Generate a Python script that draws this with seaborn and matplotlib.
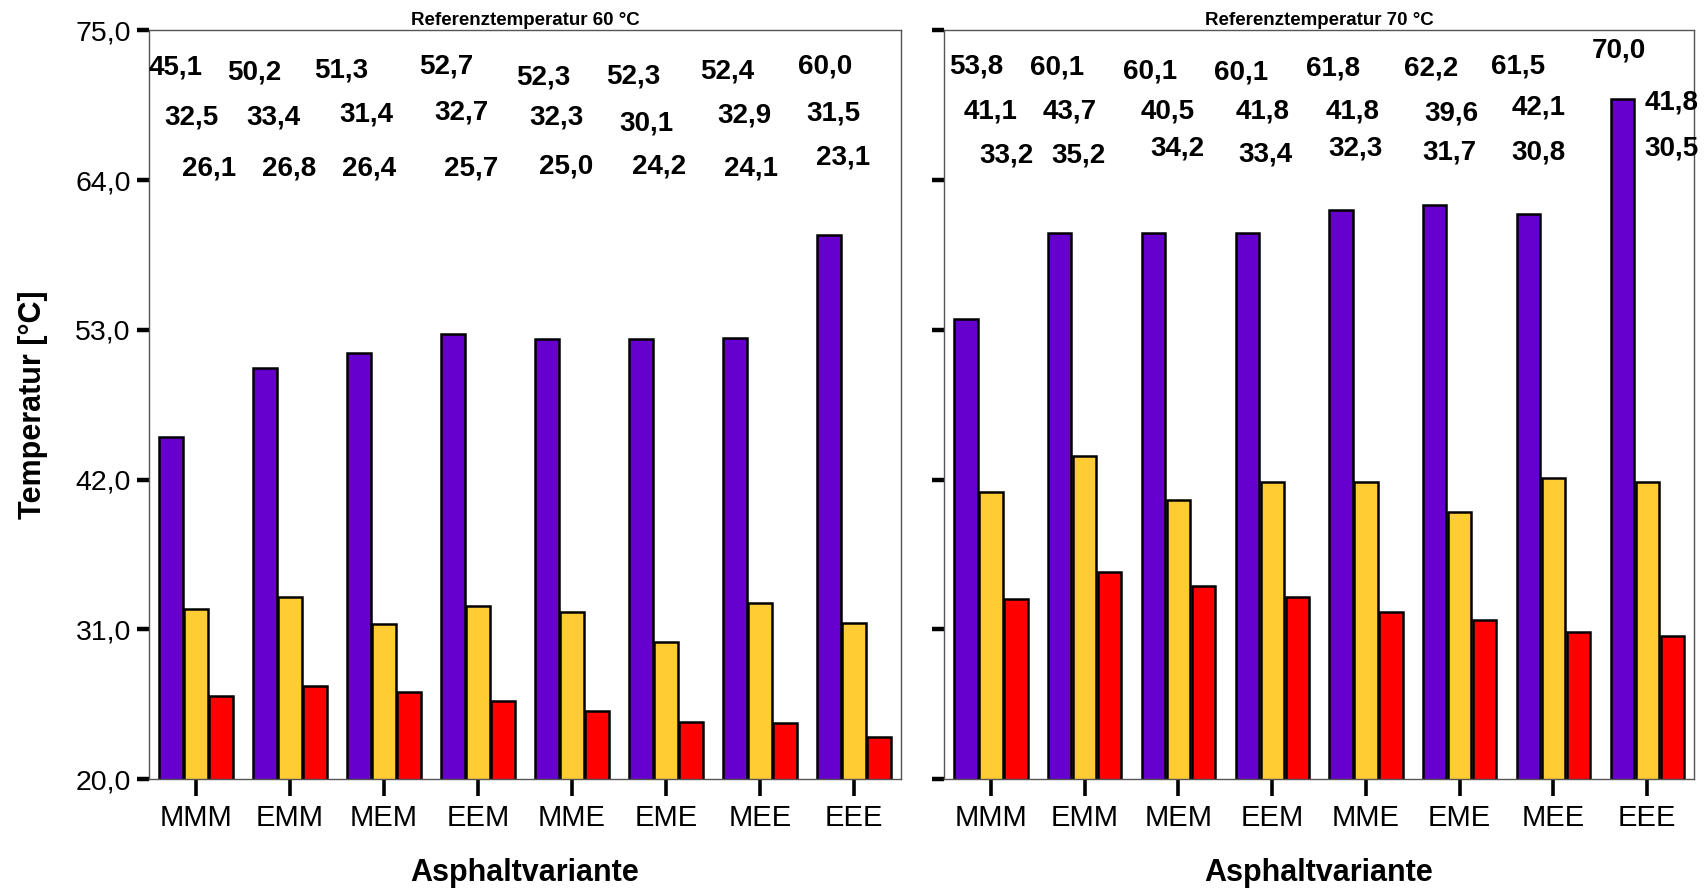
import numpy as np
import pandas as pd
import matplotlib
matplotlib.use("Agg")
import matplotlib.pyplot as plt
import seaborn as sns

# Asphalt variants on the x axis
varianten = ["MMM", "EMM", "MEM", "EEM", "MME", "EME", "MEE", "EEE"]
schichten = ["oben", "mitte", "unten"]

# Reference temperature 60 °C
ref60_oben = [45.1, 50.2, 51.3, 52.7, 52.3, 52.3, 52.4, 60.0]
ref60_mitte = [32.5, 33.4, 31.4, 32.7, 32.3, 30.1, 32.9, 31.5]
ref60_unten = [26.1, 26.8, 26.4, 25.7, 25.0, 24.2, 24.1, 23.1]

# Reference temperature 70 °C
ref70_oben = [53.8, 60.1, 60.1, 60.1, 61.8, 62.2, 61.5, 70.0]
ref70_mitte = [41.1, 43.7, 40.5, 41.8, 41.8, 39.6, 42.1, 41.8]
ref70_unten = [33.2, 35.2, 34.2, 33.4, 32.3, 31.7, 30.8, 30.5]

y_ticks = [20.0, 31.0, 42.0, 53.0, 64.0, 75.0]
titel = ["Referenztemperatur 60 °C", "Referenztemperatur 70 °C"]

farben = ["#6600CC", "#FFCC33", "#FF0000"]

# Placement of the value labels in the upper area (x offset from group centre, y in data units)
label_dx = [
    [[-0.22, -0.38, -0.45, -0.34, -0.30, -0.35, -0.35, -0.31],
     [-0.05, -0.18, -0.19, -0.17, -0.16, -0.21, -0.17, -0.22],
     [0.14, -0.01, -0.16, -0.07, -0.06, -0.07, -0.09, -0.12]],
    [[-0.16, -0.29, -0.30, -0.33, -0.35, -0.30, -0.38, -0.30],
     [0.00, -0.16, -0.11, -0.10, -0.14, -0.09, -0.16, 0.26],
     [0.17, -0.07, -0.01, -0.07, -0.11, -0.11, -0.16, 0.26]],
]
label_y = [
    [[72.28, 71.88, 72.04, 72.36, 71.56, 71.64, 71.96, 72.36],
     [68.60, 68.60, 68.85, 69.00, 68.60, 68.20, 68.76, 68.92],
     [64.85, 64.85, 64.85, 64.85, 65.00, 65.00, 64.85, 65.65]],
    [[72.36, 72.28, 71.96, 71.88, 72.20, 72.20, 72.36, 73.56],
     [69.08, 69.08, 69.08, 69.08, 69.08, 68.92, 69.32, 69.72],
     [65.80, 65.80, 66.30, 65.90, 66.30, 66.00, 66.00, 66.30]],
]


def long_table(oben, mitte, unten):
    rows = []
    for serie, werte in zip(schichten, [oben, mitte, unten]):
        for v, w in zip(varianten, werte):
            rows.append({"Asphaltvariante": v, "Schicht": serie, "Temperatur": w})
    return pd.DataFrame(rows)


tabellen = [
    long_table(ref60_oben, ref60_mitte, ref60_unten),
    long_table(ref70_oben, ref70_mitte, ref70_unten),
]
werte = [
    [ref60_oben, ref60_mitte, ref60_unten],
    [ref70_oben, ref70_mitte, ref70_unten],
]

sns.set_style("white")
plt.rcParams["font.family"] = ["Liberation Sans", "DejaVu Sans"]
plt.rcParams["text.color"] = "black"
plt.rcParams["axes.labelcolor"] = "black"
plt.rcParams["xtick.color"] = "black"
plt.rcParams["ytick.color"] = "black"

fig = plt.figure(figsize=(17.06, 8.89), dpi=100)
ax1 = fig.add_axes([0.0873, 0.1237, 0.4408, 0.842])
ax2 = fig.add_axes([0.5534, 0.1237, 0.4396, 0.842])

for k, ax in enumerate([ax1, ax2]):
    sns.barplot(
        data=tabellen[k], x="Asphaltvariante", y="Temperatur", hue="Schicht",
        order=varianten, hue_order=schichten, palette=farben, saturation=1,
        errorbar=None, width=0.8, gap=0.07, edgecolor="black", linewidth=1.8,
        legend=False, ax=ax,
    )
    ax.set_ylim(20, 75)
    ax.set_xlim(-0.5, 7.5)
    ax.set_yticks(y_ticks)
    ax.set_yticklabels([f"{t:.1f}".replace(".", ",") for t in y_ticks])
    ax.tick_params(axis="y", left=True, direction="out", length=9, width=3.2,
                   color="black", labelcolor="black", labelsize=20.5, pad=4)
    ax.tick_params(axis="x", bottom=True, direction="out", length=12, width=2.6,
                   color="black", labelcolor="black", labelsize=21, pad=6)
    for sp in ax.spines.values():
        sp.set_color("#555555")
        sp.set_linewidth(1.0)
    ax.set_title(titel[k], fontsize=13.5, fontweight="bold", pad=4, color="black")
    ax.set_xlabel("Asphaltvariante", fontsize=22, fontweight="bold", labelpad=19,
                  color="black")

    for r in range(3):
        for i, v in enumerate(werte[k][r]):
            ax.text(i + label_dx[k][r][i], label_y[k][r][i],
                    f"{v:.1f}".replace(".", ","),
                    ha="center", va="center", fontsize=20, fontweight="bold",
                    color="black")

ax1.set_ylabel("Temperatur [°C]", fontsize=22, fontweight="bold", labelpad=20,
               color="black")
ax2.set_ylabel("")
ax2.tick_params(axis="y", labelleft=False)

fig.savefig("out.png", dpi=100)
